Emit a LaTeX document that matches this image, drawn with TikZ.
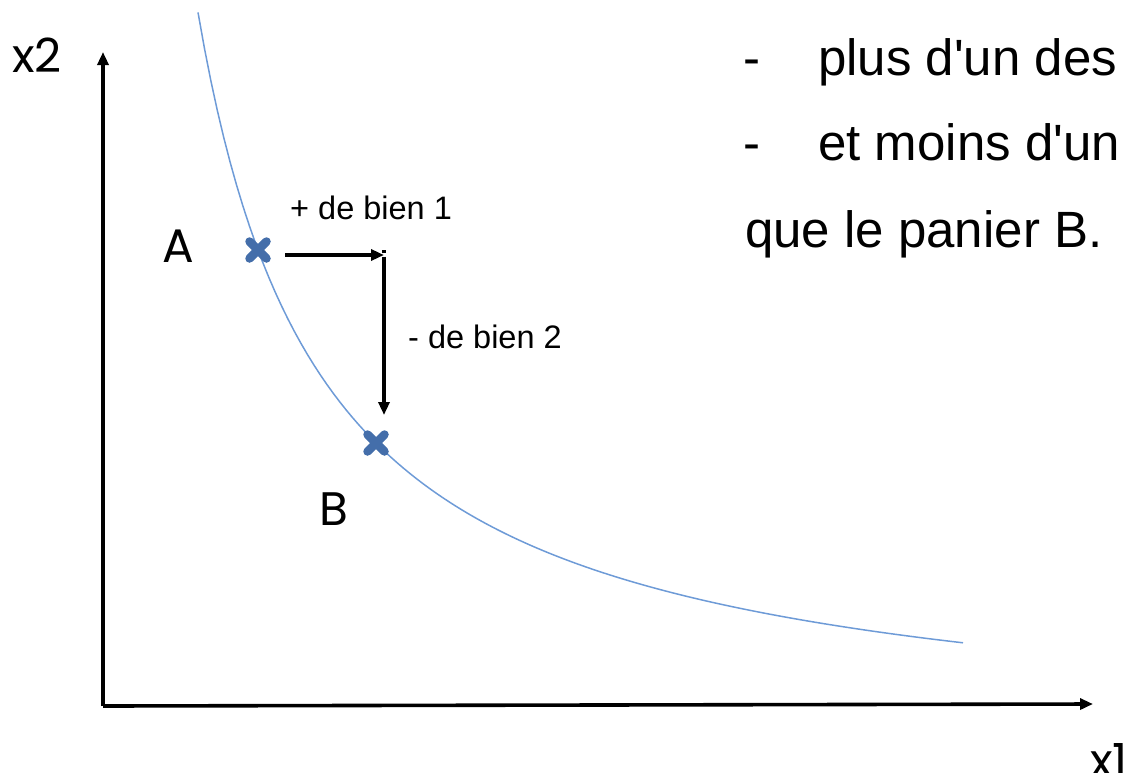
\documentclass[tikz,border=0pt]{standalone}
\usepackage{fontspec}
\setmainfont{Liberation Sans}
\newfontfamily\geofont{Poppins}
\usetikzlibrary{arrows.meta}
\definecolor{curveblue}{RGB}{110,155,215}
\definecolor{crossblue}{RGB}{68,110,170}
\tikzset{
  axisline/.style={line width=3.6pt,-{Triangle[length=13pt,width=11pt]}},
  movearrow/.style={line width=3.4pt,-{Triangle[length=13pt,width=11pt]}},
  curveline/.style={curveblue,line width=1.5pt},
  crossmark/.style={crossblue,line width=8.5pt,line cap=round},
  geolabel/.style={font=\geofont\fontsize{47}{50}\selectfont,inner sep=0pt,anchor=base},
  smalllabel/.style={font=\fontsize{32.5}{35}\selectfont,inner sep=0pt,anchor=base west},
  biglabel/.style={font=\fontsize{51}{55}\selectfont,inner sep=0pt,anchor=base west}
}
\begin{document}
\begin{tikzpicture}[x=1pt,y=-1pt]
\useasboundingbox (0,0) rectangle (1135,772);
% axes
\coordinate (O) at (103,706);
\coordinate (Ytip) at (103,52);
\coordinate (Xtip) at (1093,704);
\draw[axisline] (O) -- (Ytip);
\draw[axisline] (O) -- (Xtip);
% indifference curve
\draw[curveline,domain=198:963,samples=120,variable=\t] plot ({\t},{746-9188.4/((\t-72.75)/10)});
% points A and B
\coordinate (PA) at (258,250);
\coordinate (PB) at (376,443);
\foreach \p in {PA,PB}{
  \draw[crossmark] ([shift={(-8.5,-8.5)}]\p) -- ([shift={(8.5,8.5)}]\p);
  \draw[crossmark] ([shift={(-8.5,8.5)}]\p) -- ([shift={(8.5,-8.5)}]\p);
}
% movement arrows
\coordinate (H0) at (285,255);
\coordinate (Corner) at (384,255);
\coordinate (V1) at (384,415);
\draw[movearrow] (H0) -- (Corner);
\draw[line width=3.4pt] ([yshift=1.7pt]Corner) -- ++(0,-3);
\draw[movearrow] ([yshift=-1.5pt]Corner) -- (V1);
% labels
\node[geolabel] (lA) at (178,262) {A};
\node[geolabel] (lB) at (334,525) {B};
\node[geolabel,anchor=base west] (lx2) at (12,72) {x2};
\node[geolabel,anchor=base west] (lx1) at (1090,777) {x1};
\node[smalllabel] (l1) at (290,219) {+ de bien 1};
\node[smalllabel] (l2) at (408,348) {- de bien 2};
% right text
\node[biglabel] (d1) at (743,75) {-};
\node[biglabel] (t1) at (818,75) {plus d\textquotesingle un des};
\node[biglabel] (d2) at (743,160) {-};
\node[biglabel] (t2) at (818,160) {et moins d\textquotesingle un};
\node[biglabel] (t3) at (745,247) {que le panier B.};
\end{tikzpicture}
\end{document}
